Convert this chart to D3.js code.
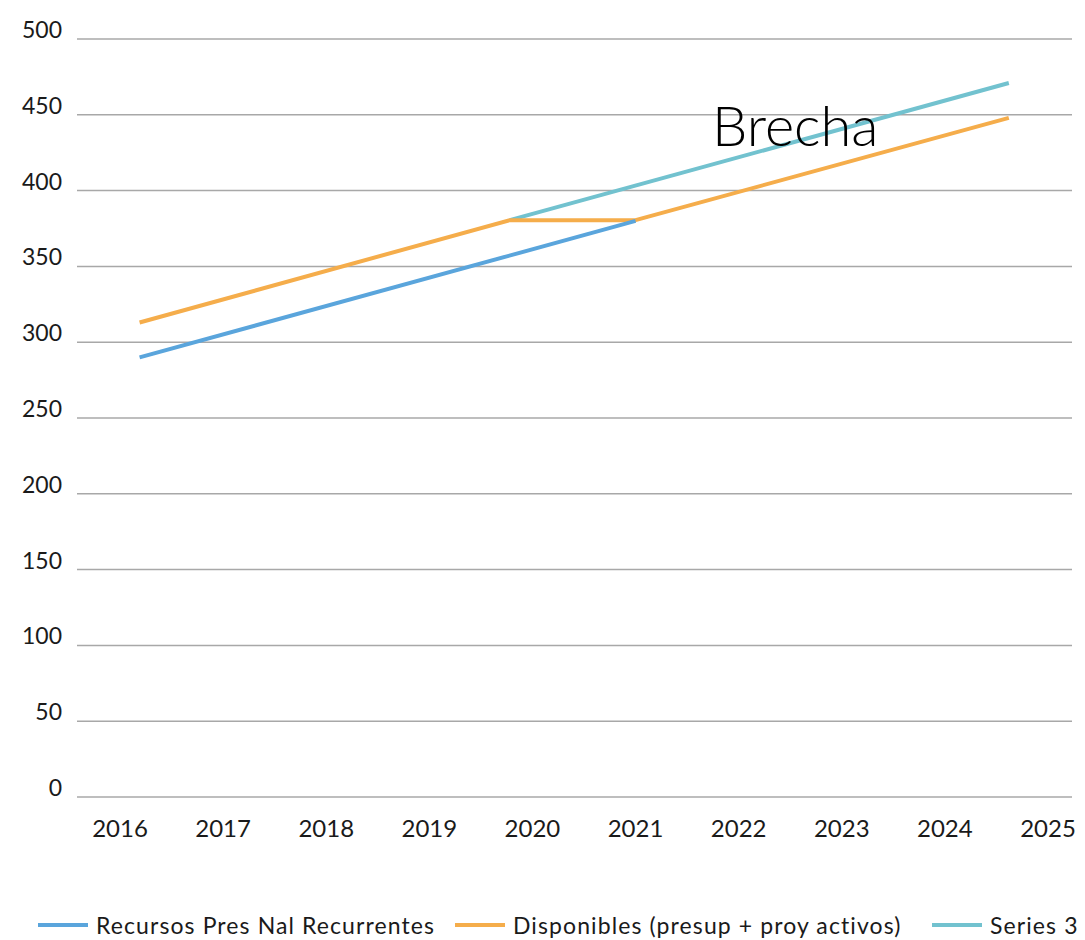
<!DOCTYPE html>
<html>
<head>
<meta charset="utf-8">
<script src="https://cdn.jsdelivr.net/npm/d3@7"></script>
<style>
  html, body { margin: 0; padding: 0; background: #fff; }
  svg { display: block; font-family: Lato, "Noto Sans", sans-serif; }
</style>
</head>
<body>
<svg id="chart" width="1085" height="940"></svg>
<script>
// Year ticks on the horizontal axis
const years = [2016, 2017, 2018, 2019, 2020, 2021, 2022, 2023, 2024, 2025];
// Value ticks on the vertical axis
const yTicks = [0, 50, 100, 150, 200, 250, 300, 350, 400, 450, 500];

// Series (x = fractional year, y = value)
const recursosX = [2016.19, 2021.0];
const recursosY = [290, 380];

const disponiblesX = [2016.19, 2019.78, 2021.0, 2024.62];
const disponiblesY = [313, 380.5, 380.5, 448];

const series3X = [2019.78, 2024.62];
const series3Y = [380.5, 471];

const seriesNames = ["Recursos Pres Nal Recurrentes", "Disponibles (presup + proy activos)", "Series 3"];
const seriesColors = ["#5aa5dc", "#f5ad4b", "#72c2cf"];

const annotation = "Brecha";

const svg = d3.select("#chart");

const x = d3.scaleLinear().domain([2016, 2025]).range([120, 1048]);
const y = d3.scaleLinear().domain([0, 500]).range([797, 39]);
const gridLeft = 77, gridRight = 1072;

// Horizontal gridlines
svg.append("g")
  .selectAll("line")
  .data(yTicks)
  .join("line")
  .attr("x1", gridLeft).attr("x2", gridRight)
  .attr("y1", d => y(d)).attr("y2", d => y(d))
  .attr("stroke", "#a8a8a8")
  .attr("stroke-width", 1.5);

// Y tick labels (sitting on their gridline)
svg.append("g")
  .selectAll("text")
  .data(yTicks)
  .join("text")
  .attr("x", 62)
  .attr("y", d => y(d) - 1)
  .attr("text-anchor", "end")
  .attr("font-size", 23)
  .attr("fill", "#1a1a1a")
  .text(d => d);

// X tick labels
svg.append("g")
  .selectAll("text")
  .data(years)
  .join("text")
  .attr("x", d => x(d))
  .attr("y", 837)
  .attr("text-anchor", "middle")
  .attr("font-size", 24)
  .attr("fill", "#1a1a1a")
  .text(d => d);

const line = d3.line().x(d => x(d[0])).y(d => y(d[1]));
const series = [
  d3.zip(recursosX, recursosY),
  d3.zip(disponiblesX, disponiblesY),
  d3.zip(series3X, series3Y)
];

// Draw series 3 first, then disponibles, then recursos
const drawOrder = [2, 1, 0];
svg.append("g")
  .selectAll("path")
  .data(drawOrder)
  .join("path")
  .attr("d", i => line(series[i]))
  .attr("fill", "none")
  .attr("stroke", i => seriesColors[i])
  .attr("stroke-width", 4)
  .attr("stroke-linejoin", "round");

// Gap annotation
svg.append("text")
  .attr("x", 712)
  .attr("y", 146)
  .attr("font-size", 56)
  .attr("font-weight", 300)
  .attr("fill", "#000")
  .text(annotation);

// Legend along the bottom
const legendX = [38, 455, 932];
const ly = 925;
const legend = svg.append("g")
  .selectAll("g")
  .data(seriesNames)
  .join("g")
  .attr("transform", (d, i) => `translate(${legendX[i]},${ly})`);
legend.append("line")
  .attr("x1", 0).attr("x2", 50)
  .attr("y1", 0).attr("y2", 0)
  .attr("stroke", (d, i) => seriesColors[i])
  .attr("stroke-width", 4);
legend.append("text")
  .attr("x", 58)
  .attr("y", 9)
  .attr("font-size", 23)
  .attr("letter-spacing", 1.1)
  .attr("fill", "#1a1a1a")
  .text(d => d);
</script>
</body>
</html>
